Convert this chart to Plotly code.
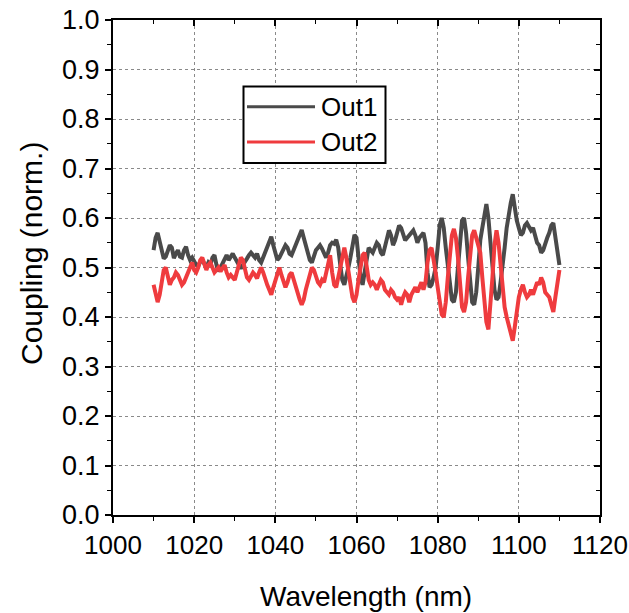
import plotly.graph_objects as go

# Wavelength grid step (nm) and start
start_nm = 1010.0
step_nm = 0.5

out1 = [
    0.535,0.560,0.570,0.550,0.540,0.518,0.522,0.532,0.545,0.540,
    0.519,0.528,0.535,0.522,0.520,0.535,0.542,0.525,0.515,0.520,
    0.512,0.505,0.503,0.512,0.515,0.505,0.500,0.510,0.505,0.520,
    0.525,0.505,0.492,0.500,0.510,0.520,0.525,0.515,0.520,0.528,
    0.520,0.512,0.505,0.498,0.505,0.510,0.518,0.525,0.530,0.525,
    0.520,0.528,0.515,0.510,0.520,0.530,0.545,0.555,0.562,0.545,
    0.530,0.515,0.520,0.530,0.540,0.545,0.540,0.528,0.525,0.535,
    0.545,0.555,0.565,0.576,0.560,0.545,0.530,0.515,0.510,0.525,
    0.535,0.540,0.545,0.538,0.530,0.520,0.530,0.545,0.550,0.548,
    0.556,0.540,0.505,0.475,0.465,0.480,0.500,0.520,0.545,0.566,
    0.560,0.520,0.480,0.465,0.490,0.525,0.540,0.535,0.530,0.540,
    0.550,0.545,0.530,0.525,0.540,0.560,0.575,0.565,0.545,0.555,
    0.570,0.585,0.580,0.565,0.555,0.560,0.565,0.570,0.575,0.565,
    0.550,0.560,0.565,0.570,0.550,0.490,0.460,0.465,0.480,0.500,
    0.540,0.585,0.600,0.580,0.540,0.500,0.460,0.435,0.430,0.450,
    0.500,0.560,0.595,0.600,0.570,0.520,0.470,0.430,0.425,0.450,
    0.500,0.555,0.580,0.605,0.628,0.600,0.545,0.490,0.455,0.435,
    0.440,0.470,0.500,0.540,0.580,0.610,0.630,0.648,0.615,0.595,
    0.580,0.565,0.570,0.585,0.590,0.580,0.575,0.580,0.565,0.550,
    0.545,0.530,0.535,0.550,0.560,0.570,0.585,0.590,0.560,0.530,
    0.505,
]

out2 = [
    0.465,0.450,0.430,0.445,0.470,0.495,0.500,0.485,0.465,0.475,
    0.480,0.490,0.485,0.475,0.465,0.470,0.480,0.495,0.500,0.510,
    0.495,0.490,0.500,0.515,0.520,0.505,0.495,0.505,0.510,0.500,
    0.490,0.495,0.500,0.492,0.500,0.505,0.490,0.480,0.485,0.478,
    0.475,0.490,0.505,0.520,0.515,0.495,0.480,0.475,0.485,0.490,
    0.485,0.478,0.490,0.500,0.490,0.475,0.465,0.455,0.445,0.460,
    0.475,0.490,0.500,0.485,0.470,0.460,0.470,0.485,0.490,0.475,
    0.460,0.445,0.435,0.425,0.435,0.455,0.470,0.485,0.500,0.495,
    0.480,0.470,0.465,0.475,0.470,0.490,0.515,0.525,0.490,0.465,
    0.460,0.480,0.505,0.530,0.540,0.520,0.495,0.465,0.440,0.430,
    0.445,0.475,0.505,0.525,0.530,0.500,0.475,0.465,0.470,0.465,
    0.455,0.465,0.475,0.470,0.455,0.450,0.445,0.455,0.450,0.440,
    0.435,0.440,0.425,0.440,0.450,0.445,0.430,0.445,0.455,0.460,
    0.450,0.460,0.470,0.455,0.470,0.510,0.535,0.540,0.520,0.490,
    0.460,0.425,0.405,0.400,0.430,0.480,0.530,0.565,0.578,0.560,
    0.520,0.460,0.420,0.410,0.430,0.480,0.530,0.565,0.575,0.560,
    0.545,0.530,0.480,0.430,0.390,0.375,0.420,0.480,0.545,0.575,
    0.550,0.500,0.450,0.420,0.400,0.385,0.370,0.352,0.380,0.410,
    0.440,0.455,0.465,0.450,0.440,0.445,0.455,0.445,0.460,0.470,
    0.465,0.480,0.470,0.450,0.445,0.440,0.425,0.410,0.440,0.470,
    0.495,
]

wavelength = [start_nm + step_nm * i for i in range(len(out1))]

series_names = ["Out1", "Out2"]
x_ticks = [1000, 1020, 1040, 1060, 1080, 1100, 1120]
y_ticks = [0.0, 0.1, 0.2, 0.3, 0.4, 0.5, 0.6, 0.7, 0.8, 0.9, 1.0]

GRAY = "#4a4a4a"
RED = "#ef3b3e"
FONT = "Liberation Sans, Arial, sans-serif"

fig = go.Figure()
fig.add_trace(go.Scatter(x=wavelength, y=out1, mode="lines", name=series_names[0],
                         line=dict(color=GRAY, width=4)))
fig.add_trace(go.Scatter(x=wavelength, y=out2, mode="lines", name=series_names[1],
                         line=dict(color=RED, width=4)))

L, R, T, B = 113, 29, 20, 98
W, H = 629, 613
pw = W - L - R
ph = H - T - B

def px(x):
    return (x - L) / pw

def py(y):
    return (H - B - y) / ph

grid = dict(showgrid=True, gridcolor="#8a8a8a", gridwidth=1, griddash="dot")

fig.update_layout(
    width=W, height=H,
    autosize=False,
    margin=dict(l=L, r=R, t=T, b=B, pad=0, autoexpand=False),
    plot_bgcolor="white", paper_bgcolor="white",
    showlegend=False,
    font=dict(family=FONT, color="black", size=26),
    xaxis=dict(range=[1000, 1120], tickvals=x_ticks, ticktext=[str(v) for v in x_ticks],
               showline=True, linecolor="black", linewidth=2, mirror=True,
               ticks="outside", ticklen=6, tickwidth=1.5, tickcolor="black",
               minor=dict(ticks="outside", ticklen=4, tickwidth=1.2, dtick=10, tick0=1000,
                          tickcolor="black", showgrid=False),
               tickfont=dict(size=26), zeroline=False, automargin=False, **grid),
    yaxis=dict(range=[0, 1.0], tickvals=y_ticks, ticktext=[f"{v:.1f}" for v in y_ticks],
               showline=True, linecolor="black", linewidth=2, mirror=True,
               ticks="outside", ticklen=6, tickwidth=1.5, tickcolor="black",
               minor=dict(ticks="outside", ticklen=4, tickwidth=1.2, dtick=0.05, tick0=0,
                          tickcolor="black", showgrid=False),
               tickfont=dict(size=27), zeroline=False, automargin=False, **grid),
    xaxis2=dict(range=[1000, 1120], overlaying="x", side="top", anchor="y", showticklabels=False,
                tickvals=x_ticks, ticks="inside", ticklen=6, tickwidth=1.5, tickcolor="black",
                minor=dict(ticks="inside", ticklen=4, tickwidth=1.2, dtick=10, tick0=1000,
                           tickcolor="black", showgrid=False),
                showgrid=False, zeroline=False, showline=False, automargin=False),
    yaxis2=dict(range=[0, 1.0], overlaying="y", side="right", anchor="x", showticklabels=False,
                tickvals=y_ticks, ticks="inside", ticklen=6, tickwidth=1.5, tickcolor="black",
                minor=dict(ticks="inside", ticklen=4, tickwidth=1.2, dtick=0.05, tick0=0,
                           tickcolor="black", showgrid=False),
                showgrid=False, zeroline=False, showline=False, automargin=False),
)

# invisible anchor trace so the mirrored tick axes are drawn
fig.add_trace(go.Scatter(x=[wavelength[0]], y=[out1[0]], xaxis="x2", yaxis="y2",
                         mode="markers", marker=dict(opacity=0), hoverinfo="skip",
                         showlegend=False))

# Axis titles
fig.add_annotation(text="Wavelength (nm)", xref="paper", yref="paper",
                   x=px(366), y=py(596), xanchor="center", yanchor="middle",
                   showarrow=False, font=dict(size=28, family=FONT))
fig.add_annotation(text="Coupling (norm.)", xref="paper", yref="paper",
                   x=px(31), y=py(254), xanchor="center", yanchor="middle",
                   textangle=-90, showarrow=False, font=dict(size=30, family=FONT))

# Legend box (manual, to match the long line samples)
fig.add_shape(type="rect", xref="paper", yref="paper",
              x0=px(243.5), x1=px(385.5), y0=py(163), y1=py(86.5),
              line=dict(color="black", width=2), fillcolor="white", layer="above")
for name, color, yy in [(series_names[0], GRAY, 106.7), (series_names[1], RED, 142)]:
    fig.add_shape(type="line", xref="paper", yref="paper",
                  x0=px(247), x1=px(315), y0=py(yy), y1=py(yy),
                  line=dict(color=color, width=3), layer="above")
    fig.add_annotation(text=name, xref="paper", yref="paper",
                       x=px(319), y=py(yy), xanchor="left", yanchor="middle",
                       showarrow=False, font=dict(size=26, family=FONT))

fig.write_html("out.html",
               config={"displayModeBar": False},
               post_script="document.body.style.margin='0';document.body.style.overflow='hidden';")
